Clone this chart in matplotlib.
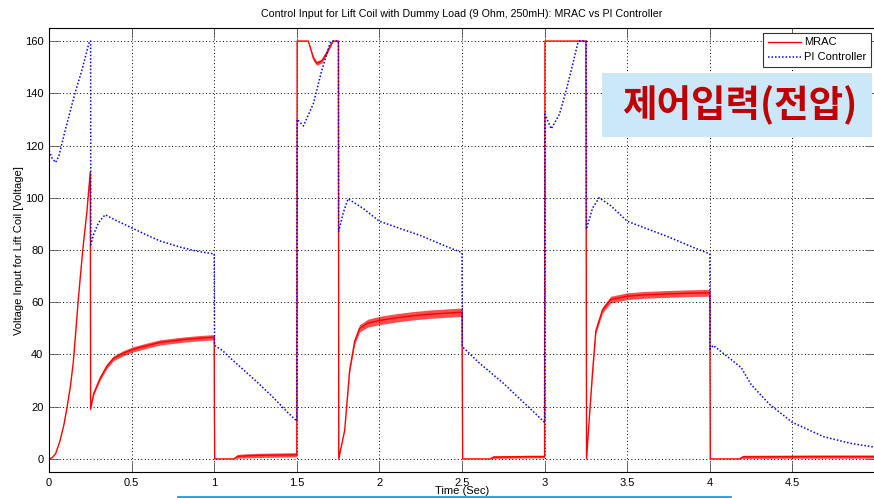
import matplotlib
matplotlib.use('Agg')
import matplotlib.pyplot as plt
from matplotlib import font_manager
from matplotlib.lines import Line2D
from matplotlib.patches import Rectangle

# narrow sans like the MATLAB screen font, if we have it
names = set(f.name for f in font_manager.fontManager.ttflist)
base = 'Liberation Sans Narrow' if 'Liberation Sans Narrow' in names else 'Liberation Sans'
plt.rcParams['font.family'] = [base, 'DejaVu Sans']

# MRAC control input
mrac_t = [0, 0.02, 0.04, 0.067, 0.09, 0.11, 0.13, 0.147, 0.165, 0.176, 0.19, 0.206, 0.23, 0.25,
          0.252, 0.27, 0.31, 0.35, 0.39, 0.45, 0.51, 0.6, 0.67, 0.8, 0.9, 1.0,
          1.001, 1.003, 1.12, 1.14, 1.2, 1.3, 1.4, 1.5,
          1.502, 1.57, 1.6, 1.62, 1.65, 1.68, 1.71, 1.72, 1.752,
          1.754, 1.79, 1.82, 1.85, 1.88, 1.93, 2.0, 2.1, 2.2, 2.3, 2.4, 2.5,
          2.502, 2.504, 2.67, 2.69, 2.8, 2.9, 3.0,
          3.002, 3.25,
          3.254, 3.27, 3.29, 3.31, 3.35, 3.4, 3.5, 3.6, 3.75, 3.9, 4.0,
          4.003, 4.18, 4.2, 4.6, 5.0]
mrac_v = [0, 0.5, 2, 7, 13, 20, 28, 37, 51, 60, 70, 81, 95, 110,
          19, 25, 31, 35.5, 38.5, 40.5, 42, 43.5, 44.6, 45.6, 46.2, 46.6,
          22, 0, 0, 1.0, 1.2, 1.4, 1.5, 1.6,
          160, 160, 153.5, 151.5, 152.3, 155.4, 159, 160, 160,
          0, 11, 34, 45, 50, 52, 53, 54, 54.8, 55.4, 55.8, 56.2,
          27, 0, 0, 0.7, 0.8, 0.9, 0.9,
          160, 160,
          0, 15, 33, 49, 57, 61, 62.3, 62.8, 63.2, 63.5, 63.6,
          0, 0, 0.8, 0.9, 0.9]
# half width of the chattering band around the MRAC curve
mrac_ripple = [0, 0, 0, 0, 0, 0, 0, 0, 0, 0, 0, 0, 0, 0,
               0, 0.6, 0.8, 0.9, 0.9, 1.0, 1.0, 1.0, 1.0, 1.0, 1.0, 1.0,
               0, 0, 0, 0.7, 0.8, 0.8, 0.8, 0.8,
               0, 0, 0.8, 0.8, 0.8, 0.8, 0.5, 0, 0,
               0, 0, 0.8, 1.2, 1.4, 1.5, 1.6, 1.6, 1.6, 1.6, 1.6, 1.6,
               0, 0, 0, 0.5, 0.5, 0.5, 0.5,
               0, 0,
               0, 0, 0.8, 1.0, 1.2, 1.3, 1.3, 1.3, 1.3, 1.3, 1.3,
               0, 0, 0.6, 0.6, 0.6]

# PI controller input
pi_t = [0, 0.02, 0.04, 0.06, 0.097, 0.157, 0.2, 0.245, 0.252,
        0.253, 0.27, 0.3, 0.34, 0.4, 0.5, 0.6, 0.67, 0.8, 0.9, 1.0,
        1.002, 1.05, 1.1, 1.25, 1.35, 1.45, 1.5,
        1.502, 1.54, 1.6, 1.65, 1.70, 1.71, 1.752,
        1.753, 1.78, 1.81, 1.9, 2.0, 2.25, 2.4, 2.5,
        2.502, 2.6, 2.75, 2.9, 3.0,
        3.002, 3.04, 3.09, 3.13, 3.17, 3.2, 3.21, 3.252,
        3.253, 3.29, 3.33, 3.4, 3.5, 3.75, 3.9, 4.0,
        4.002, 4.02, 4.1, 4.19, 4.25, 4.36, 4.5, 4.69, 4.85, 5.0]
pi_v = [118, 115, 113.5, 116, 125.6, 140, 149, 160, 160,
        82, 86, 90.5, 93.5, 91.5, 88.5, 85.5, 83.5, 81, 79.5, 78.5,
        43.5, 41.5, 38.5, 30, 24, 17.5, 14.5,
        130, 127.5, 136, 148.5, 159, 160, 160,
        87, 94, 99.6, 96, 91, 85.5, 81.5, 79,
        43, 37, 29, 20, 14,
        132, 126.4, 132, 141, 151, 159, 160, 160,
        88, 96, 100, 97, 91, 85, 81, 78.5,
        42, 43.5, 39.5, 35, 28.5, 21, 14, 8.5, 6, 4.5]

xticks = [0, 0.5, 1, 1.5, 2, 2.5, 3, 3.5, 4, 4.5]
xticklabels = ['0', '0.5', '1', '1.5', '2', '2.5', '3', '3.5', '4', '4.5']
yticks = [0, 20, 40, 60, 80, 100, 120, 140, 160]

fig = plt.figure(figsize=(8.74, 4.98), dpi=100)
ax = fig.add_axes([49/874, 1 - 472/498, 826/874, 444/498])

lo = [v - r for v, r in zip(mrac_v, mrac_ripple)]
hi = [v + r for v, r in zip(mrac_v, mrac_ripple)]
ax.fill_between(mrac_t, lo, hi, color='red', alpha=0.7, lw=0)
ax.plot(mrac_t, mrac_v, color='red', lw=1.0, label='MRAC')
ax.plot(pi_t, pi_v, color='blue', lw=1.1, ls=(0, (1, 1.3)), label='PI Controller')

ax.set_xlim(0, 5)
ax.set_ylim(-5, 165)
ax.set_xticks(xticks)
ax.set_xticklabels(xticklabels)
ax.set_yticks(yticks)
ax.grid(True, color='black', ls=(0, (1, 2.5)), lw=0.7)
ax.tick_params(direction='in', length=7, width=0.6, labelsize=8, top=True, right=True,
               color='#555555', pad=4)
for s in ax.spines.values():
    s.set_linewidth(0.8)

ax.set_title('Control Input for Lift Coil with Dummy Load (9 Ohm, 250mH): MRAC vs PI Controller',
             fontsize=7.7, pad=8)
fig.text(19/874, 1 - 251/498, 'Voltage Input for Lift Coil [Voltage]', rotation=90,
         ha='center', va='center', fontsize=8)
fig.text(462/874, 1 - 491/498, 'Time (Sec)', ha='center', va='center', fontsize=8)

leg = ax.legend(loc='upper right', bbox_to_anchor=(871/874, 1 - 33/498),
                bbox_transform=fig.transFigure, borderaxespad=0, fontsize=8,
                fancybox=False, framealpha=1, edgecolor='#333333',
                handlelength=3.0, handletextpad=0.3, labelspacing=0.45, borderpad=0.4)
leg.get_frame().set_linewidth(0.8)

# slide decoration: Korean caption box and a blue rule at the bottom
fig.add_artist(Rectangle((602/874, 1 - 137/498), 270/874, 64/498,
                         transform=fig.transFigure, facecolor='#cbe8f9', edgecolor='none'))
fig.text(740/874, 1 - 105/498, '제어입력(전압)', ha='center', va='center',
         fontsize=27, fontweight='bold', color='#c00000',
         family=['Noto Sans CJK KR', 'DejaVu Sans'])
fig.add_artist(Line2D([178/874, 730/874], [1 - 497/498, 1 - 497/498],
                      transform=fig.transFigure, color='#1e9fdc', lw=2))

fig.savefig('out.png', dpi=100)
